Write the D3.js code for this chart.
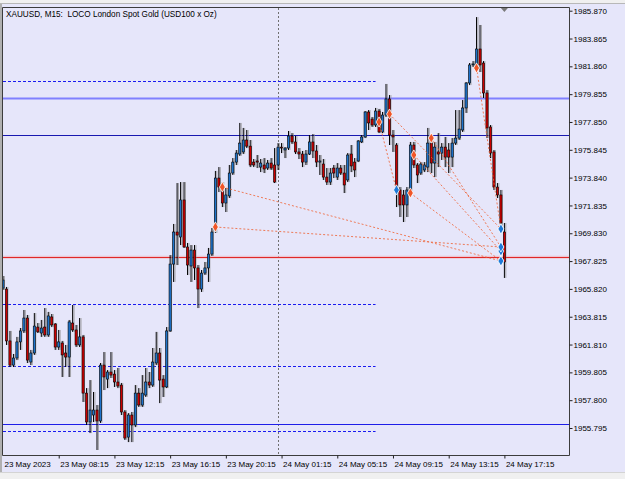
<!DOCTYPE html>
<html lang="en">
<head>
<meta charset="UTF-8">
<title>XAUUSD M15</title>
<script src="https://cdn.jsdelivr.net/npm/d3@7"></script>
<style>
    body { margin: 0; background: #f0f0f0; }
    svg { display: block; font-family: "Liberation Sans", Arial, sans-serif; }
</style>
</head>
<body>
<div id="chart"></div>
<script>
    // M15 bars, 23 May 04:15 .. 24 May 17:15
    const open = [1965.88,1965.81,1962.07,1960.33,1960.84,1962.00,1962.79,1963.72,1960.55,1961.20,
        1963.07,1962.64,1963.07,1962.50,1963.80,1963.29,1961.63,1961.92,1961.20,1960.91,
        1963.36,1962.86,1961.78,1962.36,1958.31,1956.23,1956.73,1957.09,1956.30,1960.33,
        1959.32,1959.83,1959.68,1959.11,1958.89,1956.95,1955.14,1956.73,1956.01,1958.31,
        1957.45,1958.17,1959.11,1958.89,1960.48,1961.20,1959.32,1958.75,1962.79,1967.61,
        1969.92,1969.56,1972.23,1968.84,1967.47,1968.62,1967.33,1965.81,1966.96,1967.33,
        1968.33,1970.06,1973.81,1973.16,1972.01,1972.52,1974.17,1974.96,1975.54,1975.69,
        1976.55,1976.11,1974.96,1975.04,1974.60,1974.75,1974.53,1974.89,1974.75,1974.75,
        1976.04,1975.83,1975.97,1976.84,1976.41,1975.69,1975.54,1974.96,1975.54,1976.41,
        1975.76,1974.96,1974.82,1973.88,1973.52,1974.53,1973.88,1974.53,1974.17,1973.67,
        1975.54,1974.96,1975.04,1976.41,1976.77,1978.57,1978.06,1977.63,1978.64,1977.13,
        1978.35,1979.51,1976.91,1976.19,1972.95,1972.59,1971.87,1972.95,1976.19,1974.75,
        1974.17,1974.39,1974.60,1976.33,1974.89,1975.69,1975.61,1976.04,1975.83,1975.32,
        1976.33,1976.69,1977.27,1978.86,1980.66,1981.96,1981.96,1983.11,1982.10,1979.94,
        1977.49,1975.69,1973.16,1972.59,1969.92];
    const high = [1966.75,1965.96,1962.79,1961.13,1962.36,1963.00,1964.30,1963.94,1961.42,1964.08,
        1963.36,1963.58,1964.44,1964.16,1964.01,1963.36,1962.86,1962.07,1961.78,1963.58,
        1964.66,1963.22,1963.72,1962.50,1958.67,1959.25,1958.39,1957.45,1960.48,1961.27,
        1959.97,1961.27,1959.97,1960.12,1959.04,1957.09,1956.87,1956.95,1958.89,1958.67,
        1959.61,1960.12,1959.83,1961.56,1962.72,1961.56,1959.61,1963.07,1968.26,1970.50,
        1973.45,1973.52,1973.52,1969.13,1968.98,1968.98,1967.54,1967.18,1967.76,1968.77,
        1970.21,1974.32,1974.60,1973.52,1973.09,1974.75,1975.25,1975.83,1977.78,1977.42,
        1977.27,1976.55,1975.18,1975.47,1975.18,1975.25,1975.11,1975.25,1975.97,1976.33,
        1976.33,1976.04,1977.20,1977.05,1976.84,1975.97,1975.76,1975.83,1976.91,1976.98,
        1976.19,1975.47,1975.18,1974.53,1974.53,1974.75,1974.89,1974.75,1974.75,1975.61,
        1976.19,1975.25,1976.55,1976.91,1978.64,1978.71,1978.21,1978.86,1978.79,1978.57,
        1980.59,1979.79,1977.27,1976.33,1973.16,1972.95,1973.16,1976.41,1976.41,1974.89,
        1974.96,1974.96,1977.42,1976.91,1976.41,1977.05,1976.33,1976.77,1976.33,1976.69,
        1978.71,1978.71,1979.43,1980.73,1982.10,1982.24,1985.41,1984.84,1982.24,1980.15,
        1977.63,1975.83,1973.45,1972.95,1970.57];
    const low = [1965.74,1961.78,1960.19,1960.19,1960.69,1961.42,1962.64,1960.48,1960.33,1961.06,
        1962.64,1962.36,1962.36,1962.36,1963.07,1961.42,1961.42,1959.47,1960.19,1959.47,
        1962.72,1961.63,1961.63,1957.67,1956.01,1955.43,1956.23,1954.21,1956.16,1958.53,
        1958.67,1959.40,1958.75,1958.67,1956.73,1954.93,1954.78,1954.78,1955.86,1957.31,
        1957.31,1958.03,1958.67,1958.75,1960.33,1957.59,1958.03,1958.67,1962.72,1966.32,
        1967.54,1968.98,1968.77,1966.82,1966.32,1966.46,1964.44,1965.60,1966.82,1966.32,
        1968.19,1969.85,1972.80,1971.72,1971.36,1972.37,1974.03,1974.75,1975.40,1975.54,
        1975.97,1974.60,1974.60,1974.53,1974.24,1974.17,1974.39,1974.39,1973.45,1974.39,
        1975.61,1975.25,1975.83,1976.26,1975.54,1975.18,1974.60,1974.75,1975.47,1975.25,
        1974.60,1974.03,1973.67,1973.31,1973.31,1973.81,1973.67,1974.03,1972.73,1973.52,
        1974.24,1973.88,1974.96,1976.33,1976.69,1977.27,1977.49,1977.49,1977.05,1977.05,
        1978.21,1976.19,1975.69,1971.72,1971.00,1970.64,1971.00,1972.73,1974.53,1973.45,
        1974.03,1974.24,1974.24,1974.17,1973.88,1974.60,1975.11,1974.60,1974.17,1974.60,
        1976.19,1976.55,1977.13,1978.50,1980.51,1981.81,1981.88,1981.45,1979.58,1976.69,
        1975.25,1972.95,1972.37,1970.28,1966.61];
    const close = [1966.46,1962.07,1960.33,1960.84,1962.00,1962.79,1963.72,1960.69,1961.20,1963.14,
        1962.72,1963.00,1962.50,1963.87,1963.22,1961.63,1962.00,1961.06,1960.91,1963.44,
        1962.86,1961.78,1962.36,1958.31,1956.23,1957.09,1957.09,1956.30,1960.33,1959.47,
        1959.83,1959.61,1959.11,1958.82,1956.95,1955.07,1956.73,1956.01,1958.31,1957.45,
        1958.31,1959.11,1958.89,1960.55,1961.20,1959.25,1958.75,1962.79,1967.61,1969.92,
        1969.70,1972.23,1968.84,1967.54,1968.62,1967.33,1965.81,1966.96,1967.33,1968.33,
        1969.92,1973.81,1973.16,1972.01,1972.59,1974.17,1974.96,1975.61,1976.33,1976.55,
        1976.11,1974.75,1974.75,1974.96,1974.89,1974.46,1974.89,1974.53,1973.52,1976.04,
        1975.97,1975.97,1976.84,1976.41,1975.69,1975.54,1974.96,1975.54,1976.41,1975.76,
        1974.96,1975.04,1973.88,1973.52,1974.17,1974.17,1974.53,1974.17,1973.31,1975.47,
        1974.68,1974.39,1976.48,1976.77,1978.57,1977.78,1977.63,1978.64,1977.13,1978.35,
        1979.51,1976.91,1976.77,1972.95,1971.87,1971.87,1972.95,1976.19,1974.75,1974.03,
        1974.82,1974.75,1976.33,1974.89,1976.04,1975.54,1976.04,1975.32,1975.32,1976.33,
        1976.69,1977.34,1978.86,1980.66,1981.96,1982.03,1983.11,1981.96,1979.94,1977.42,
        1975.61,1973.16,1972.59,1970.57,1967.76];

    const priceTicks = [1985.870, 1983.865, 1981.860, 1979.855, 1977.850, 1975.845, 1973.840, 1971.835,
        1969.830, 1967.825, 1965.820, 1963.815, 1961.810, 1959.805, 1957.800, 1955.795];
    const timeTickBars = [0, 16, 32, 48, 64, 80, 96, 112, 128, 144];
    const timeTickLabels = ["23 May 2023", "23 May 08:15", "23 May 12:15", "23 May 16:15", "23 May 20:15",
        "24 May 01:15", "24 May 05:15", "24 May 09:15", "24 May 13:15", "24 May 17:15"];
    const daySeparatorBar = 79;

    // horizontal levels
    const solidLevels = [1979.58, 1976.89, 1968.10, 1956.06];
    const dashedLevels = [1980.80, 1964.71, 1960.26, 1955.56];
    const dashedLevelEndBar = 107;

    // trade history (entry -> exit)
    const tradeEntryBar = [63, 61, 108, 111, 118, 123, 117, 136];
    const tradeEntryPrice = [1973.16, 1970.28, 1977.85, 1978.42, 1975.47, 1976.69, 1972.73, 1981.74];
    const tradeExitBar = [143, 143, 113, 143, 143, 143, 143, 143];
    const tradeExitPrice = [1967.83, 1968.84, 1972.95, 1970.14, 1968.55, 1968.84, 1967.83, 1970.14];

    const title = "XAUUSD, M15:  LOCO London Spot Gold (USD100 x Oz)";

    const width = 625, height = 479;
    const frame = {left: 3, right: 569.5, top: 8, bottom: 455.5};
    const bg = "#e6e6fa";

    const svg = d3.select("#chart").append("svg")
        .attr("width", width)
        .attr("height", height);

    const x = d3.scaleLinear().domain([0, 144]).range([3, 504.4]);
    const y = d3.scaleLinear().domain([1955.795, 1985.870]).range([428, 10.7]);

    // window background
    svg.append("rect").attr("width", width).attr("height", height).attr("fill", "#f0f0f0");
    svg.append("rect").attr("x", 0).attr("y", 4).attr("width", width).attr("height", 468).attr("fill", bg);
    svg.append("line").attr("x1", 0).attr("x2", width).attr("y1", 3.5).attr("y2", 3.5).attr("stroke", "#b8b8b8");
    svg.append("line").attr("x1", 0).attr("x2", width).attr("y1", 472.5).attr("y2", 472.5).attr("stroke", "#d4d4d4");
    svg.append("rect").attr("x", 0).attr("y", 4).attr("width", 2).attr("height", 468).attr("fill", "#b0b0b0");

    svg.append("clipPath").attr("id", "plotClip")
        .append("rect")
        .attr("x", frame.left).attr("y", frame.top)
        .attr("width", frame.right - frame.left).attr("height", frame.bottom - frame.top);

    const plot = svg.append("g").attr("clip-path", "url(#plotClip)");

    // day separator
    plot.append("line")
        .attr("x1", Math.round(x(daySeparatorBar)) + 0.5).attr("x2", Math.round(x(daySeparatorBar)) + 0.5)
        .attr("y1", frame.top).attr("y2", frame.bottom)
        .attr("stroke", "#707070").attr("stroke-dasharray", "2,2");

    // level lines
    const solidColors = ["#8080ff", "#1818b0", "#e02828", "#1e1ee8"];
    const solidWidths = [2, 1, 1, 1];
    plot.append("line")
        .attr("x1", frame.left).attr("x2", frame.right)
        .attr("y1", y(solidLevels[2])).attr("y2", y(solidLevels[2]))
        .attr("stroke", "#f0b0b8").attr("stroke-width", 3).attr("opacity", 0.6);
    plot.selectAll(".level")
        .data(solidLevels)
        .join("line")
        .attr("x1", frame.left).attr("x2", frame.right)
        .attr("y1", d => Math.round(y(d)) + 0.5).attr("y2", d => Math.round(y(d)) + 0.5)
        .attr("stroke", (d, i) => solidColors[i])
        .attr("stroke-width", (d, i) => solidWidths[i]);

    plot.selectAll(".dlevel")
        .data(dashedLevels)
        .join("line")
        .attr("x1", frame.left).attr("x2", x(dashedLevelEndBar))
        .attr("y1", d => Math.round(y(d)) + 0.5).attr("y2", d => Math.round(y(d)) + 0.5)
        .attr("stroke", "#1a1af0")
        .attr("stroke-dasharray", "3,2");

    // candles
    const bars = open.map((o, i) => ({i, o, h: high[i], l: low[i], c: close[i]}));
    const bodyW = 2.2;

    const candle = plot.append("g").selectAll("g")
        .data(bars)
        .join("g");

    candle.append("line")
        .attr("x1", d => x(d.i) + 1.4).attr("x2", d => x(d.i) + 1.4)
        .attr("y1", d => y(d.h)).attr("y2", d => y(d.l))
        .attr("stroke", "#8c8c8c").attr("stroke-width", 1).attr("opacity", 0.75);

    candle.append("line")
        .attr("x1", d => x(d.i)).attr("x2", d => x(d.i))
        .attr("y1", d => y(d.h)).attr("y2", d => y(d.l))
        .attr("stroke", "#000").attr("stroke-width", 1);

    candle.append("rect")
        .attr("x", d => x(d.i) - bodyW / 2)
        .attr("width", bodyW)
        .attr("y", d => y(Math.max(d.o, d.c)))
        .attr("height", d => Math.max(0.8, Math.abs(y(d.o) - y(d.c))))
        .attr("fill", d => d.c >= d.o ? "#1e74cc" : "#cc0000")
        .attr("stroke", "#000").attr("stroke-width", 0.6);

    // trade lines and arrows
    const trades = tradeEntryBar.map((b, i) => ({
        b0: b, p0: tradeEntryPrice[i], b1: tradeExitBar[i], p1: tradeExitPrice[i]
    }));

    plot.append("g").selectAll("line")
        .data(trades)
        .join("line")
        .attr("x1", d => x(d.b0)).attr("y1", d => y(d.p0))
        .attr("x2", d => x(d.b1)).attr("y2", d => y(d.p1))
        .attr("stroke", "#f0683c").attr("stroke-width", 1)
        .attr("stroke-dasharray", "2,2").attr("opacity", 0.85);

    const marker = d3.symbol(d3.symbolDiamond, 30);
    plot.append("g").selectAll("path")
        .data(trades)
        .join("path")
        .attr("d", marker)
        .attr("transform", d => `translate(${x(d.b0)},${y(d.p0)})`)
        .attr("fill", "#f05528").attr("stroke", "#fff").attr("stroke-width", 0.8);

    plot.append("g").selectAll("path")
        .data(trades)
        .join("path")
        .attr("d", marker)
        .attr("transform", d => `translate(${x(d.b1)},${y(d.p1)})`)
        .attr("fill", "#1e7ad8").attr("stroke", "#fff").attr("stroke-width", 0.8);

    // frame
    svg.append("path")
        .attr("d", `M${frame.left - 0.5},${frame.bottom} V${frame.top - 0.5} H${frame.right} V${frame.bottom} H${frame.left - 0.5}`)
        .attr("fill", "none").attr("stroke", "#3c3c3c").attr("stroke-width", 1);

    // last bar marker
    const lx = x(144);
    svg.append("path")
        .attr("d", `M${lx - 3.5},${frame.top} L${lx + 3.5},${frame.top} L${lx},${frame.top + 4} Z`)
        .attr("fill", "#7a7a7a");

    // price axis
    const yAxis = svg.append("g")
        .attr("transform", `translate(${frame.right},0)`)
        .call(d3.axisRight(y).tickValues(priceTicks).tickSize(3).tickPadding(1)
            .tickFormat(d3.format(".3f")));
    yAxis.select(".domain").remove();
    yAxis.selectAll("line").attr("stroke", "#202020");
    yAxis.selectAll("text").attr("font-size", 8).attr("fill", "#000")
        .attr("font-family", "Liberation Sans, Arial, sans-serif");

    // time axis
    const xAxis = svg.append("g")
        .attr("transform", `translate(0,${frame.bottom})`)
        .call(d3.axisBottom(x).tickValues(timeTickBars).tickSize(3)
            .tickFormat((d, i) => timeTickLabels[i]));
    xAxis.select(".domain").remove();
    xAxis.selectAll("line").attr("stroke", "#202020")
        .attr("opacity", d => d === 0 ? 0 : 1);
    xAxis.selectAll("text")
        .attr("text-anchor", "start")
        .attr("x", 1).attr("y", 6)
        .attr("font-size", 8).attr("fill", "#000")
        .attr("font-family", "Liberation Sans, Arial, sans-serif");

    // title
    svg.append("text")
        .attr("x", 6).attr("y", 17)
        .attr("font-size", 8.2)
        .attr("fill", "#000")
        .style("white-space", "pre")
        .text(title);
</script>
</body>
</html>
